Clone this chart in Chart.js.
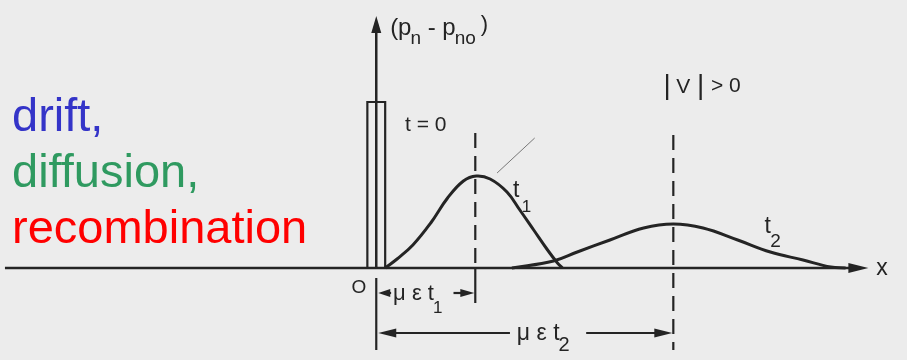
<!DOCTYPE html>
<html>
<head>
<meta charset="utf-8">
<script src="https://cdn.jsdelivr.net/npm/chart.js@4.4.0/dist/chart.umd.min.js"></script>
<style>
  html, body { margin: 0; padding: 0; background: #ececec; }
  #wrap { position: relative; width: 907px; height: 360px; overflow: hidden; }
  .tag {
    position: absolute; left: 12px; margin: 0;
    font-family: 'Liberation Sans', Arial, sans-serif;
    font-size: 47px; line-height: 1; white-space: nowrap;
  }
</style>
</head>
<body>
<div id="wrap">
  <canvas id="pulseChart"></canvas>
  <div class="tag" style="top:91px; color:#3434c8;">drift,</div>
  <div class="tag" style="top:147px; color:#2f9a60;">diffusion,</div>
  <div class="tag" style="top:203px; color:#ff0000;">recombination</div>
</div>
<script>
// x in units of the drift distance, y in arbitrary excess-carrier units
const pulseX = [-0.09, -0.09, 0.09, 0.09];
const pulseY = [0, 8.3, 8.3, 0];

const t1X = [0.09, 0.21, 0.37, 0.55, 0.72, 0.88, 1.01, 1.15, 1.32, 1.45, 1.59, 1.73, 1.83, 1.88];
const t1Y = [0, 0.45, 1.15, 2.25, 3.5, 4.35, 4.6, 4.45, 3.8, 2.9, 1.9, 0.9, 0.25, 0];

const t2X = [1.37, 1.79, 2.03, 2.36, 2.70, 3.0, 3.30, 3.65, 3.98, 4.31, 4.59, 4.74];
const t2Y = [0, 0.35, 0.8, 1.4, 2.0, 2.2, 2.0, 1.4, 0.8, 0.4, 0.05, 0];

// drift distances μεt1 and μεt2
const peakT1 = 1.0;
const peakT2 = 3.0;

const ink = '#242424';
const toPoints = (xs, ys) => xs.map((v, i) => ({ x: v, y: ys[i] }));

function arrowHead(ctx, tx, ty, dx, dy, len, half) {
  // filled slim arrow, tip at (tx, ty), pointing along (dx, dy)
  const bx = tx - dx * len, by = ty - dy * len;
  ctx.beginPath();
  ctx.moveTo(tx, ty);
  ctx.lineTo(bx - dy * half, by + dx * half);
  ctx.lineTo(bx + dy * half, by - dx * half);
  ctx.closePath();
  ctx.fill();
}

function line(ctx, x1, y1, x2, y2, dash) {
  ctx.setLineDash(dash || []);
  ctx.beginPath();
  ctx.moveTo(x1, y1);
  ctx.lineTo(x2, y2);
  ctx.stroke();
  ctx.setLineDash([]);
}

function text(ctx, s, px, py, size) {
  ctx.font = size + 'px "Liberation Sans", Arial, sans-serif';
  ctx.fillText(s, px, py);
  return px + ctx.measureText(s).width;
}

const diagram = {
  id: 'diagram',
  afterDatasetsDraw(chart) {
    const { ctx, scales: { x, y } } = chart;
    const X = v => x.getPixelForValue(v);
    const Y = v => y.getPixelForValue(v);
    ctx.save();
    ctx.strokeStyle = ink;
    ctx.fillStyle = ink;
    ctx.lineWidth = 2.5;

    // axes
    line(ctx, X(-3.75), Y(0), X(4.85), Y(0));
    arrowHead(ctx, X(4.97), Y(0), 1, 0, 20, 5);
    line(ctx, X(0), Y(0), X(0), Y(11.9));
    arrowHead(ctx, X(0), Y(12.6), 0, -1, 17, 5);

    // peak positions
    ctx.lineWidth = 2.2;
    line(ctx, X(peakT1), Y(6.75), X(peakT1), Y(0), [15, 8]);
    line(ctx, X(peakT1), Y(0), X(peakT1), Y(-1.75));
    line(ctx, X(peakT2), Y(6.65), X(peakT2), Y(-4.1), [15, 8]);
    line(ctx, X(0), Y(-0.5), X(0), Y(-4.1));

    // μεt1 dimension
    const d1 = Y(-1.25);
    line(ctx, X(0.1), d1, X(0.15), d1);
    arrowHead(ctx, X(0) + 2, d1, -1, 0, 12, 4);
    line(ctx, X(0.78), d1, X(0.88), d1);
    arrowHead(ctx, X(peakT1) - 1, d1, 1, 0, 14, 4);

    // μεt2 dimension
    const d2 = Y(-3.25);
    line(ctx, X(0.1), d2, X(1.35), d2);
    arrowHead(ctx, X(0) + 2, d2, -1, 0, 18, 4.5);
    line(ctx, X(2.12), d2, X(2.85), d2);
    arrowHead(ctx, X(peakT2) - 1, d2, 1, 0, 18, 4.5);

    // leader from the t1 curve
    ctx.lineWidth = 1;
    ctx.strokeStyle = '#777';
    line(ctx, X(1.22), Y(4.75), X(1.60), Y(6.5));

    // labels
    ctx.textBaseline = 'middle';
    ctx.textAlign = 'left';
    let cx = text(ctx, '(p', X(0.14), Y(12.0), 24);
    cx = text(ctx, 'n', cx - 1, Y(11.45), 19);
    cx = text(ctx, ' - p', cx, Y(12.0), 24);
    cx = text(ctx, 'no', cx - 1, Y(11.45), 19);
    text(ctx, ')', cx + 5, Y(12.15), 22);

    text(ctx, 't = 0', X(0.29), Y(7.15), 21);

    text(ctx, '|', X(2.90), Y(9.1), 28);
    text(ctx, 'V', X(3.03), Y(9.05), 21);
    text(ctx, '|', X(3.24), Y(9.1), 28);
    text(ctx, '> 0', X(3.38), Y(9.1), 21);

    text(ctx, 't', X(1.38), Y(3.85), 23);
    text(ctx, '1', X(1.47), Y(3.05), 17);
    text(ctx, 't', X(3.92), Y(2.05), 23);
    text(ctx, '2', X(3.98), Y(1.3), 19);

    text(ctx, 'x', X(5.05), Y(-0.05), 23);
    text(ctx, 'O', X(-0.25), Y(-1.0), 19);

    let mx = text(ctx, 'μ ε t', X(0.17), Y(-1.3), 22);
    text(ctx, '1', mx - 1, Y(-2.0), 17);
    mx = text(ctx, 'μ ε t', X(1.42), Y(-3.3), 23);
    text(ctx, '2', mx - 1, Y(-3.85), 20);

    ctx.restore();
  }
};

new Chart(document.getElementById('pulseChart'), {
  type: 'scatter',
  data: {
    datasets: [
      {
        label: 't = 0',
        data: toPoints(pulseX, pulseY),
        showLine: true,
        borderColor: ink,
        borderWidth: 2.2,
        tension: 0,
        pointRadius: 0
      },
      {
        label: 't1',
        data: toPoints(t1X, t1Y),
        showLine: true,
        borderColor: ink,
        borderWidth: 3,
        tension: 0.4,
        pointRadius: 0
      },
      {
        label: 't2',
        data: toPoints(t2X, t2Y),
        showLine: true,
        borderColor: ink,
        borderWidth: 3,
        tension: 0.4,
        pointRadius: 0
      }
    ]
  },
  options: {
    responsive: true,
    maintainAspectRatio: false,
    animation: false,
    layout: { padding: 0 },
    plugins: {
      legend: { display: false },
      tooltip: { enabled: false }
    },
    scales: {
      x: { type: 'linear', min: -3.8, max: 5.36, display: false },
      y: { type: 'linear', min: -4.6, max: 13.4, display: false }
    }
  },
  plugins: [diagram]
});
</script>
</body>
</html>
